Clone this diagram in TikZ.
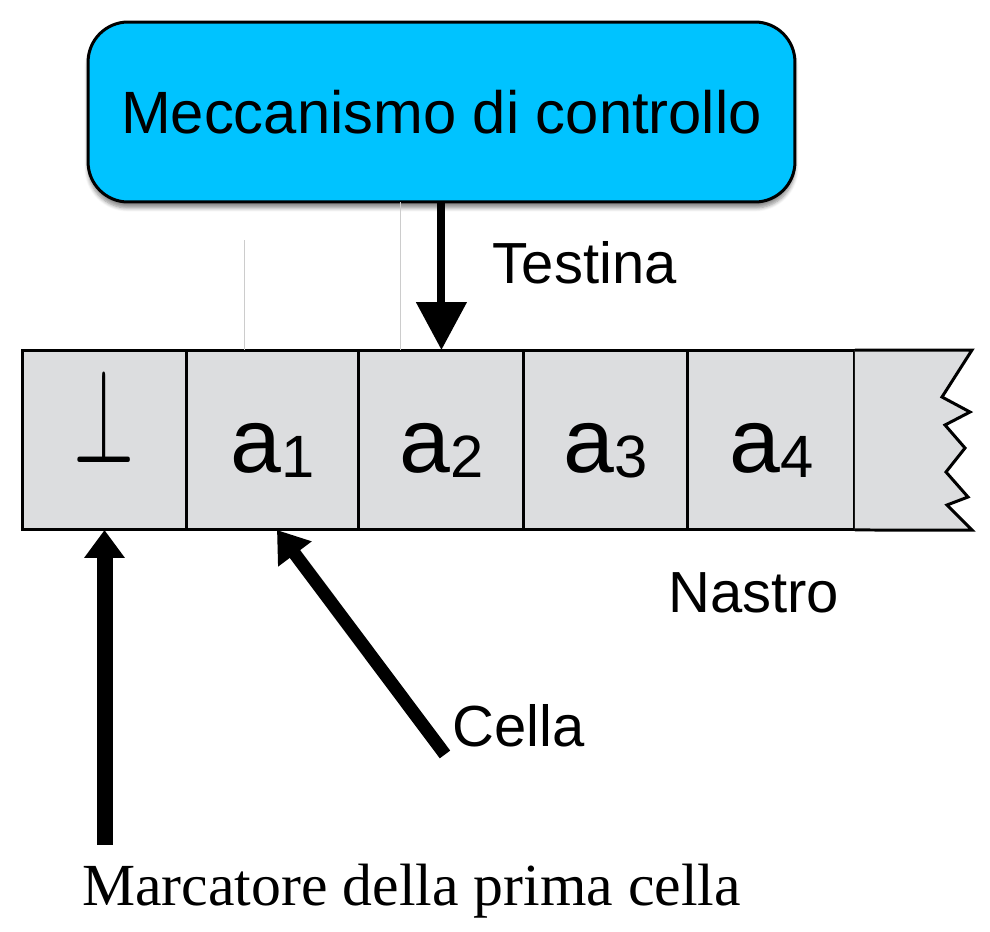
\documentclass[tikz,border=0pt]{standalone}
\usepackage{fontspec}
\setmainfont{Liberation Sans}
\newfontfamily\serifface{Liberation Serif}
\usetikzlibrary{positioning,arrows.meta,shadows.blur}
\definecolor{ctrlblue}{HTML}{00C3FF}
\definecolor{tapegray}{HTML}{DCDDDF}
\newcommand{\tapesym}[2]{{\fontsize{52}{52}\selectfont #1}\raisebox{-0.1cm}{\fontsize{34}{34}\selectfont #2}}

\begin{document}
\begin{tikzpicture}[x=0.02cm,y=-0.02cm,
  cell/.style={draw,rectangle,fill=tapegray,line width=0.06cm,minimum width=3.3cm,minimum height=3.6cm,outer sep=0pt,inner sep=0pt,text height=1.6cm,text depth=0.32cm},
  ctrlbox/.style={draw,rectangle,fill=ctrlblue,rounded corners=0.8cm,line width=0.06cm,minimum width=14.14cm,minimum height=3.6cm,outer sep=0pt,font=\fontsize{34}{35}\selectfont,blur shadow={shadow xshift=0cm,shadow yshift=-0.12cm,shadow blur steps=6,shadow opacity=45}},
  lbl/.style={inner sep=0.15cm,anchor=base west,font=\fontsize{33}{33}\selectfont},
  headarrow/.style={line width=0.16cm,-{Triangle[width=0.98cm,length=0.96cm]}},
  markarrow/.style={line width=0.32cm,-{Triangle[width=0.78cm,length=0.56cm]}},
  cellarrow/.style={line width=0.26cm,-{Triangle[width=0.8cm,length=0.6cm]}},
  faint/.style={black!20,line width=0.02cm}]

\useasboundingbox (0,0) rectangle (990,931);

\node[ctrlbox] (ctrl) at (441.5,112) {Meccanismo di controllo};

\node[cell] (c0) at (104.5,440) {\raisebox{0.2cm}{\scalebox{1.8}[3.1]{\fontsize{24.88}{25}\selectfont$\perp$}}};
\node[cell,minimum width=3.44cm] (c1) [right=0pt of c0] {\tapesym{a}{1}};
\node[cell] (c2) [right=0pt of c1] {\tapesym{a}{2}};
\node[cell,minimum width=3.28cm] (c3) [right=0pt of c2] {\tapesym{a}{3}};
\node[cell,minimum width=3.34cm] (c4) [right=0pt of c3] {\tapesym{a}{4}};

% torn end of the tape
\draw[fill=tapegray,line width=0.06cm,line join=miter]
(c4.north east) -- (972,350) -- (942,397) -- (970,412) -- (945,425) -- (965,448)
-- (946,472) -- (968,497) -- (947,505) -- (972,530) -- (c4.south east);

\draw[faint] (244,240) -- (244,0 |- c1.north);
\draw[faint] (400,0 |- ctrl.south) -- (400,0 |- c2.north);

\node[lbl] (testina) at (485,283) {Testina};
\node[lbl] (nastro) at (660.5,612) {Nastro};
\node[lbl] (cella) at (445,746) {Cella};
\node[lbl,font=\serifface\fontsize{34}{34}\selectfont] (marker) at (74.5,905) {Marcatore della prima cella};

\draw[headarrow] (c2.north |- ctrl.south) -- (c2.north);
\draw[markarrow,shorten <=0.22cm] (c0.south |- marker.north) -- (c0.south);
\draw[cellarrow] (cella.south west) -- ([xshift=0.08cm]c1.south);

\end{tikzpicture}
\end{document}
